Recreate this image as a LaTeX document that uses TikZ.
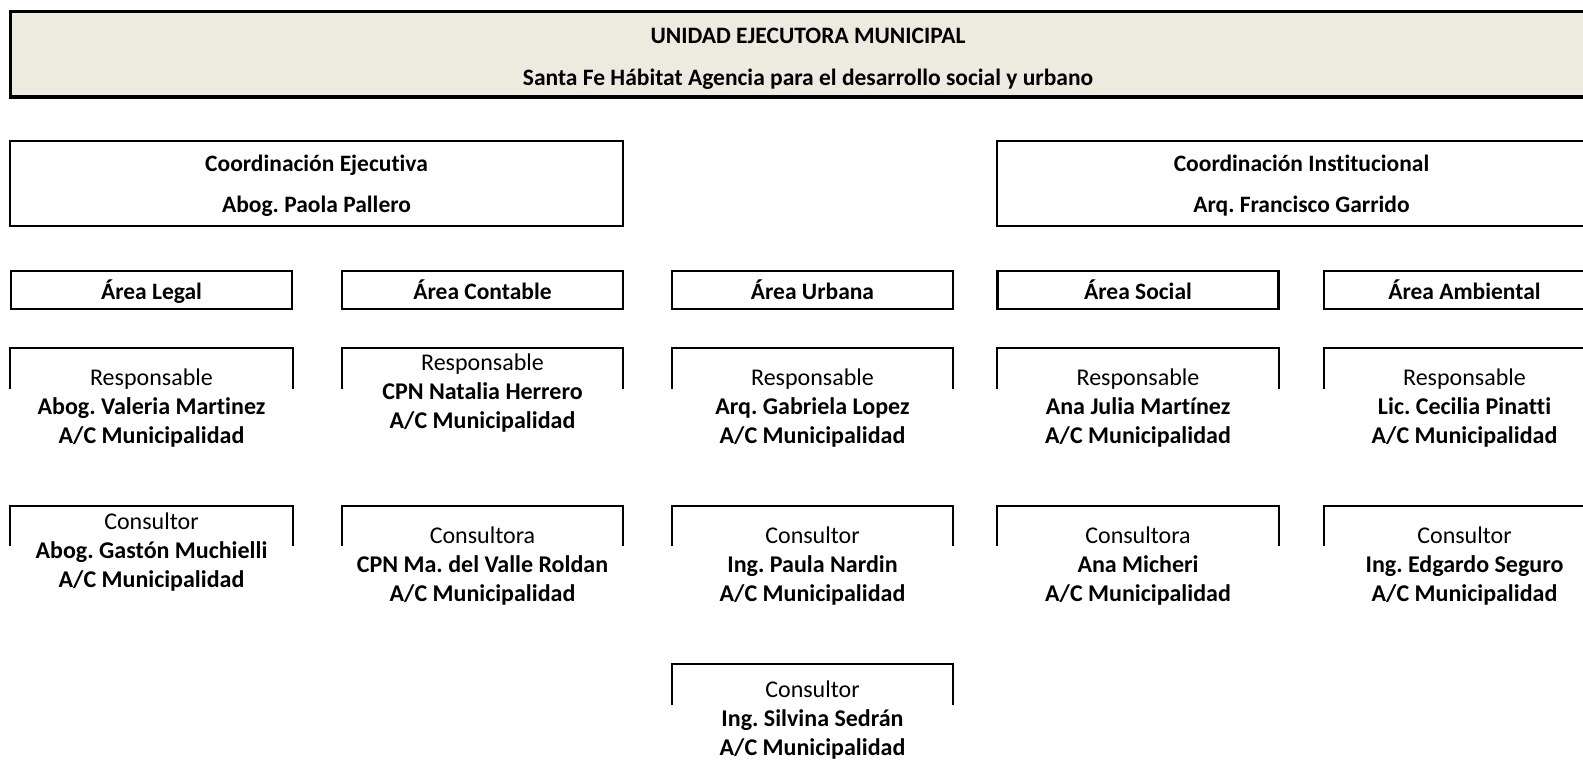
\documentclass[tikz,border=0pt]{standalone}
\usepackage{fontspec}
\setmainfont{Carlito}[Ligatures={NoCommon}]
\usetikzlibrary{positioning}
\definecolor{bannerfill}{RGB}{237,235,224}
\frenchspacing

\tikzset{
  banner/.style={draw, line width=3pt, fill=bannerfill, minimum width=1595pt, minimum height=85pt, inner sep=0pt},
  coordbox/.style={draw, line width=2.6pt, minimum height=85pt, inner sep=0pt},
  areabox/.style={draw, line width=2.6pt, minimum width=281pt, minimum height=38pt, inner sep=0pt, text height=19pt, text depth=1pt, font=\fontsize{23.5}{28}\selectfont\bfseries},
  cellframe/.style={line width=2pt},
  celltext/.style={align=center, inner sep=0pt, font=\fontsize{24}{29}\selectfont},
  headtext/.style={inner sep=0pt, text height=17pt, text depth=5pt, font=\fontsize{23.5}{28}\selectfont\bfseries}
}

\begin{document}
\begin{tikzpicture}[x=1pt, y=-1pt]
    \useasboundingbox (0,0) rectangle (1583,760);
    \clip (0,0) rectangle (1583,760);

    % Banner
    \node[banner] (uem) at (808,54.5) {};
    \node[headtext] (uemtitle) at (808,38) {UNIDAD EJECUTORA MUNICIPAL};
    \node[headtext] (uemsub) at (808,79) {Santa Fe Hábitat Agencia para el desarrollo social y urbano};

    % Coordinations
    \node[coordbox, minimum width=613pt] (coordej) at (316.5,183.5) {};
    \node[headtext] at (316.5,165) {Coordinación Ejecutiva};
    \node[headtext] at (316.5,206) {Abog. Paola Pallero};
    \node[coordbox, minimum width=609pt] (coordinst) at (1301.5,183.5) {};
    \node[headtext] at (1301.5,165) {Coordinación Institucional};
    \node[headtext] at (1301.5,206) {Arq. Francisco Garrido};

    % Areas
    \node[areabox] (legal) at (151.5,290) {Área Legal};
    \node[areabox] (contable) at (482.5,290) {Área Contable};
    \node[areabox] (urbana) at (812.5,290) {Área Urbana};
    \node[areabox] (social) at (1138,290) {Área Social};
    \node[areabox] (ambiental) at (1464.5,290) {Área Ambiental};

    % Responsables
    \foreach \xl/\xr in {10/293, 342/623, 672/953, 997/1279, 1324/1605}
        \draw[cellframe] (\xl,389) -- (\xl,348) -- (\xr,348) -- (\xr,389);
    \node[celltext] (resplegal) at (151.5,408) {Responsable\\\textbf{Abog. Valeria Martinez}\\\textbf{A/C Municipalidad}};
    \node[celltext] (respcontable) at (482.5,393) {Responsable\\\textbf{CPN Natalia Herrero}\\\textbf{A/C Municipalidad}};
    \node[celltext] (respurbana) at (812.5,408) {Responsable\\\textbf{Arq. Gabriela Lopez}\\\textbf{A/C Municipalidad}};
    \node[celltext] (respsocial) at (1138,408) {Responsable\\\textbf{Ana Julia Martínez}\\\textbf{A/C Municipalidad}};
    \node[celltext] (respambiental) at (1464.5,408) {Responsable\\\textbf{Lic. Cecilia Pinatti}\\\textbf{A/C Municipalidad}};

    % Consultores
    \foreach \xl/\xr in {10/293, 342/623, 672/953, 997/1279, 1324/1605}
        \draw[cellframe] (\xl,546) -- (\xl,506) -- (\xr,506) -- (\xr,546);
    \node[celltext] (conslegal) at (151.5,552) {Consultor\\\textbf{Abog. Gastón Muchielli}\\\textbf{A/C Municipalidad}};
    \node[celltext] (conscontable) at (482.5,566) {Consultora\\\textbf{CPN Ma. del Valle Roldan}\\\textbf{A/C Municipalidad}};
    \node[celltext] (consurbana) at (812.5,566) {Consultor\\\textbf{Ing. Paula Nardin}\\\textbf{A/C Municipalidad}};
    \node[celltext] (conssocial) at (1138,566) {Consultora\\\textbf{Ana Micheri}\\\textbf{A/C Municipalidad}};
    \node[celltext] (consambiental) at (1464.5,566) {Consultor\\\textbf{Ing. Edgardo Seguro}\\\textbf{A/C Municipalidad}};

    % Second consultant, urban area
    \draw[cellframe] (672,705) -- (672,664) -- (953,664) -- (953,705);
    \node[celltext] (consurbanab) at (812.5,720) {Consultor\\\textbf{Ing. Silvina Sedrán}\\\textbf{A/C Municipalidad}};
\end{tikzpicture}
\end{document}
